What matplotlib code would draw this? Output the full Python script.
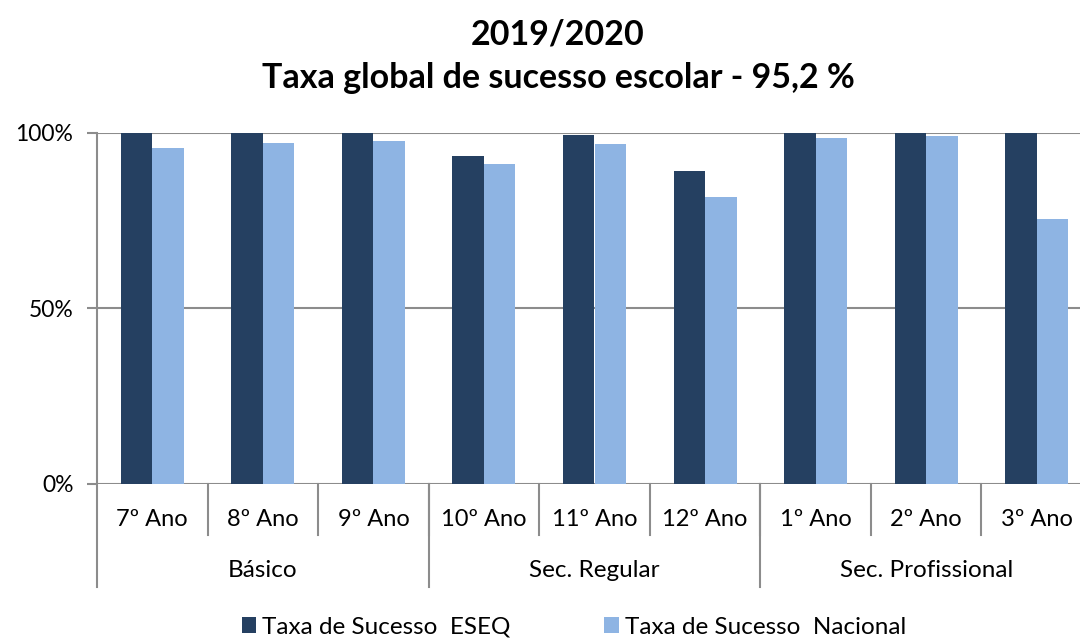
import numpy as np
import matplotlib
matplotlib.use("Agg")
import matplotlib.pyplot as plt
from matplotlib.lines import Line2D

plt.rcParams['font.family'] = ['Lato', 'DejaVu Sans']

anos = ['7º Ano', '8º Ano', '9º Ano', '10º Ano', '11º Ano', '12º Ano',
        '1º Ano', '2º Ano', '3º Ano']
grupos = ['Básico', 'Sec. Regular', 'Sec. Profissional']
eseq = [1.00, 1.00, 1.00, 0.934, 0.993, 0.891, 1.00, 1.00, 1.00]
nacional = [0.956, 0.971, 0.977, 0.910, 0.969, 0.817, 0.984, 0.991, 0.754]

cor_eseq = '#254061'
cor_nac = '#8EB4E3'
cinza = '#8C8C8C'

fig = plt.figure(figsize=(10.8, 6.4), dpi=100)
ax = fig.add_axes([97/1080, 156/640, 995/1080, 351.3/640])

x = np.arange(len(anos))
w = 0.285
ax.bar(x - w/2, eseq, w, color=cor_eseq, label='Taxa de Sucesso  ESEQ')
ax.bar(x + w/2, nacional, w, color=cor_nac, label='Taxa de Sucesso  Nacional')

ax.set_xlim(-0.5, len(anos) - 0.5)
ax.set_ylim(0, 1)
ax.set_yticks([0, 0.5, 1.0])
ax.set_yticklabels(['0%', '50%', '100%'], fontsize=16.5)
ax.set_axisbelow(True)
ax.yaxis.grid(True, color=cinza, linewidth=1.5)
ax.tick_params(axis='y', length=7, width=1.5, color=cinza, pad=10)
ax.set_xticks([])
for s in ['top', 'right', 'bottom', 'left']:
    ax.spines[s].set_visible(False)

trans = ax.get_xaxis_transform()
# left axis line running down through the category area
ax.add_line(Line2D([-0.5, -0.5], [1.0, -0.293], transform=trans, color=cinza,
                   linewidth=1.5, clip_on=False))
# separators between years
for i in range(1, len(anos)):
    ax.add_line(Line2D([i - 0.5, i - 0.5], [0, -0.145], transform=trans,
                       color=cinza, linewidth=1.5, clip_on=False))
# separators between groups
for b in [2.5, 5.5]:
    ax.add_line(Line2D([b, b], [0, -0.293], transform=trans, color=cinza,
                       linewidth=1.5, clip_on=False))

for i, a in enumerate(anos):
    ax.text(i, -0.1, a, transform=trans, ha='center', va='center', fontsize=17)
for g, c in zip(grupos, [1, 4, 7]):
    ax.text(c, -0.245, g, transform=trans, ha='center', va='center', fontsize=17.5)

fig.text(558/1080, 1 - 35/640, '2019/2020', ha='center', va='center',
         fontsize=24.5, fontweight='bold')
fig.text(558/1080, 1 - 78/640, 'Taxa global de sucesso escolar - 95,2 %',
         ha='center', va='center', fontsize=24.5, fontweight='bold')

fig.legend(loc='center', bbox_to_anchor=(574/1080, 1 - 627/640), ncol=2,
           frameon=False, fontsize=17.5, handlelength=0.6, handleheight=0.6,
           handletextpad=0.25, columnspacing=3.85)

fig.savefig('out.png', dpi=100)
